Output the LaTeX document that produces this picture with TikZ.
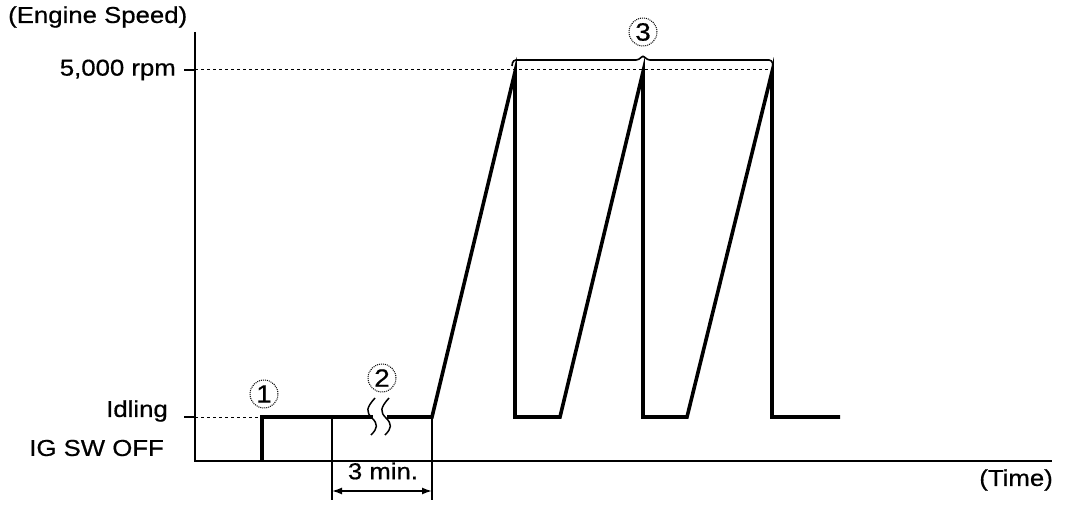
\documentclass[tikz,border=0pt]{standalone}
\usepackage{fontspec}
\setmainfont{Liberation Sans}[FakeStretch=1.12,FakeBold=0.6]
\usetikzlibrary{arrows.meta}
\begin{document}
\begin{tikzpicture}[x=1pt,y=-1pt,
  thin line/.style={line width=1.6pt},
  thick line/.style={line width=3.6pt,line join=miter},
  guide/.style={line width=1pt,dash pattern=on 3pt off 3pt},
  lbl/.style={font=\fontsize{23}{23}\selectfont,inner sep=0pt},
  circnum/.style={circle,draw,densely dotted,line width=1pt,inner sep=0pt,minimum size=28pt,font=\fontsize{25}{25}\selectfont}]
\useasboundingbox (0,0) rectangle (1072,508);
% axes
\coordinate (ytop) at (195,32);
\coordinate (orig) at (195,461);
\coordinate (xend) at (1052,461);
\draw[thin line] (ytop) -- (orig) -- (xend);
% ticks and guides
\coordinate (t5a) at (184,70);
\coordinate (t5b) at (772,70);
\coordinate (tia) at (184,417);
\coordinate (tib) at (262,417);
\draw[thin line] (t5a) -- (195,70);
\draw[guide] (195,70) -- (t5b);
\draw[thin line] (tia) -- (195,417);
\draw[guide] (195,417) -- (tib);
% labels
\node[lbl,anchor=west] (ylab) at (8,17) {(Engine Speed)};
\node[lbl,anchor=east] (l5k) at (176,70) {5,000 rpm};
\node[lbl,anchor=east] (lidl) at (168,411) {Idling};
\node[lbl,anchor=east] (lig) at (164,448) {IG SW OFF};
\node[lbl,anchor=east] (ltime) at (1053,480) {(Time)};
% engine speed trace
\draw[thick line] (262,461) -- (262,417) -- (373,417);
\draw[thick line] (387,417) -- (432,417) -- (515,72) -- (515,417) -- (560,417)
  -- (643,72) -- (643,417) -- (687,417) -- (772,72) -- (772,417) -- (840,417);
% break marks
\draw[line width=1.5pt] (375,398) .. controls (366,408) and (366,412) .. (372,418)
  .. controls (378,424) and (378,428) .. (371,435);
\draw[line width=1.5pt] (389,398) .. controls (380,408) and (380,412) .. (386,418)
  .. controls (392,424) and (392,428) .. (385,435);
% 3 min dimension
\coordinate (d1a) at (332,417);
\coordinate (d1b) at (332,500);
\coordinate (d2a) at (432,417);
\coordinate (d2b) at (432,500);
\draw[thin line] (d1a) -- (d1b);
\draw[thin line] (d2a) -- (d2b);
\coordinate (a1) at (332,491);
\coordinate (a2) at (432,491);
\draw[thin line,{Latex[length=10pt,width=7pt]}-{Latex[length=10pt,width=7pt]}] (a1) -- (a2);
\node[lbl] (tmin) at (383,471) {3 min.};
% bracket
\coordinate (b1) at (512,66);
\coordinate (b2) at (773,66);
\draw[thin line,rounded corners=3pt] (b1) -- (513,60) -- (639,60) -- (643,55) -- (647,60) -- (772,60) -- (b2);
% circled numbers
\node[circnum] (c1) at (264,394) {1};
\node[circnum] (c2) at (382,378) {2};
\node[circnum] (c3) at (643,32) {3};
\end{tikzpicture}
\end{document}
